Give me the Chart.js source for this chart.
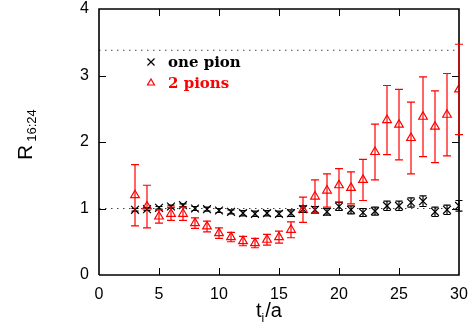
<!DOCTYPE html>
<html>
<head>
<meta charset="utf-8">
<script src="https://cdn.jsdelivr.net/npm/chart.js@4.4.1/dist/chart.umd.min.js"></script>
<style>
  html, body { margin: 0; padding: 0; background: #fff; }
  #wrap { width: 475px; height: 335px; }
</style>
</head>
<body>
<div id="wrap"><canvas id="ratio"></canvas></div>
<script>
// time slices t_i/a
const tSlices = [3, 4, 5, 6, 7, 8, 9, 10, 11, 12, 13, 14, 15, 16, 17, 18, 19, 20, 21, 22, 23, 24, 25, 26, 27, 28, 29, 30];

const onePion = [0.98, 0.99, 1.01, 1.03, 1.05, 1.00, 0.99, 0.97, 0.95, 0.93, 0.92, 0.93, 0.92, 0.93,
                 0.99, 0.98, 0.95, 1.03, 0.98, 0.94, 0.96, 1.04, 1.04, 1.09, 1.11, 0.95, 0.98, 1.04];
const onePionErr = [0.02, 0.02, 0.02, 0.02, 0.02, 0.03, 0.03, 0.03, 0.03, 0.04, 0.04, 0.04, 0.04, 0.05,
                    0.05, 0.05, 0.05, 0.06, 0.06, 0.06, 0.06, 0.07, 0.07, 0.07, 0.08, 0.07, 0.07, 0.08];

const twoPions = [1.20, 1.03, 0.88, 0.92, 0.92, 0.78, 0.73, 0.63, 0.57, 0.51, 0.48, 0.53, 0.57, 0.68,
                  0.98, 1.18, 1.27, 1.35, 1.31, 1.43, 1.85, 2.33, 2.26, 2.06, 2.38, 2.23, 2.41, 2.79];
const twoPionsErr = [0.46, 0.32, 0.10, 0.10, 0.10, 0.08, 0.08, 0.08, 0.07, 0.07, 0.07, 0.08, 0.09, 0.12,
                     0.19, 0.25, 0.25, 0.25, 0.24, 0.31, 0.42, 0.52, 0.53, 0.54, 0.60, 0.54, 0.62, 0.68];

// dotted reference levels
const refLevels = [1, 3.38];
const refRange = [0, 30];

const xTicks = [0, 5, 10, 15, 20, 25, 30];
const yTicks = [0, 1, 2, 3, 4];

const toPoints = (vals, errs) => vals.map((v, i) => ({ x: tSlices[i], y: v, e: errs[i] }));

// error bars with caps
const errorBars = {
    id: 'errorBars',
    afterDatasetsDraw(chart) {
        const ctx = chart.ctx;
        const sx = chart.scales.x, sy = chart.scales.y;
        chart.data.datasets.forEach(ds => {
            if (!ds.errCap) return;
            ctx.save();
            ctx.setLineDash([]);
            ctx.strokeStyle = ds.borderColor;
            ctx.lineWidth = 1.2;
            ds.data.forEach(p => {
                const px = sx.getPixelForValue(p.x);
                const top = sy.getPixelForValue(p.y + p.e);
                const bot = sy.getPixelForValue(p.y - p.e);
                ctx.beginPath();
                ctx.moveTo(px, top); ctx.lineTo(px, bot);
                ctx.moveTo(px - ds.errCap, top); ctx.lineTo(px + ds.errCap, top);
                ctx.moveTo(px - ds.errCap, bot); ctx.lineTo(px + ds.errCap, bot);
                ctx.stroke();
            });
            ctx.restore();
        });
    }
};

// inward ticks, tick labels, titles, legend
const decor = {
    id: 'decor',
    afterDraw(chart) {
        const ctx = chart.ctx;
        const sx = chart.scales.x, sy = chart.scales.y;
        const L = Math.round(sx.getPixelForValue(xTicks[0]));
        const R = Math.round(sx.getPixelForValue(xTicks[xTicks.length - 1]));
        const B = Math.round(sy.getPixelForValue(yTicks[0]));
        const T = Math.round(sy.getPixelForValue(yTicks[yTicks.length - 1]));
        ctx.save();
        ctx.setLineDash([]);
        ctx.strokeStyle = '#000';
        ctx.lineWidth = 1;
        ctx.beginPath();
        xTicks.slice(1, -1).forEach(t => {
            const px = Math.round(sx.getPixelForValue(t)) + 0.5;
            ctx.moveTo(px, B); ctx.lineTo(px, B - 7);
            ctx.moveTo(px, T); ctx.lineTo(px, T + 7);
        });
        yTicks.slice(1, -1).forEach(t => {
            const py = Math.round(sy.getPixelForValue(t)) + 0.5;
            ctx.moveTo(L, py); ctx.lineTo(L + 7, py);
            ctx.moveTo(R, py); ctx.lineTo(R - 7, py);
        });
        ctx.stroke();

        // tick labels
        ctx.fillStyle = '#000';
        ctx.font = '16px "Liberation Sans"';
        ctx.textAlign = 'center';
        ctx.textBaseline = 'alphabetic';
        xTicks.forEach(t => ctx.fillText(String(t), sx.getPixelForValue(t), B + 24));
        ctx.textAlign = 'right';
        ctx.textBaseline = 'middle';
        yTicks.forEach(t => ctx.fillText(String(t), L - 10, sy.getPixelForValue(t)));

        // x title: t_i/a
        ctx.textAlign = 'left';
        ctx.textBaseline = 'alphabetic';
        ctx.font = '20px "Liberation Sans"';
        let cx = 256, by = 317;
        ctx.fillText('t', cx, by);
        cx += ctx.measureText('t').width;
        ctx.font = '12px "Liberation Sans"';
        ctx.fillText('i', cx, by + 5);
        cx += ctx.measureText('i').width + 1;
        ctx.font = '20px "Liberation Sans"';
        ctx.fillText('/a', cx, by);

        // y title: R_16:24
        ctx.save();
        ctx.translate(32, 160);
        ctx.rotate(-Math.PI / 2);
        ctx.font = '21px "Liberation Sans"';
        ctx.fillText('R', 0, 0);
        const rw = ctx.measureText('R').width;
        ctx.font = '13px "Liberation Sans"';
        ctx.fillText('16:24', rw + 3, 4);
        ctx.restore();

        // legend
        ctx.font = 'bold 15px "DejaVu Serif"';
        ctx.fillStyle = '#000';
        ctx.fillText('one pion', 168, 67);
        ctx.fillStyle = '#ff0000';
        ctx.fillText('2 pions', 168, 88);
        ctx.strokeStyle = '#000';
        ctx.lineWidth = 1.2;
        Chart.helpers.drawPoint(ctx, { pointStyle: 'crossRot', radius: 5, borderWidth: 1.2 }, 151, 62);
        ctx.strokeStyle = '#ff0000';
        ctx.fillStyle = 'rgba(0,0,0,0)';
        Chart.helpers.drawPoint(ctx, { pointStyle: 'triangle', radius: 4, borderWidth: 1.2 }, 151, 83);
        ctx.restore();
    }
};

document.addEventListener('DOMContentLoaded', () => {
    const canvas = document.getElementById('ratio');
    const refSets = refLevels.map(lv => ({
        type: 'line',
        data: refRange.map(xv => ({ x: xv, y: lv })),
        borderColor: '#444',
        borderWidth: 1.2,
        borderDash: [1.5, 4.5],
        pointRadius: 0,
        fill: false,
        order: 3
    }));

    // plot frame as a closed line through the axis limits
    const xMin = xTicks[0], xMax = xTicks[xTicks.length - 1];
    const yMin = yTicks[0], yMax = yTicks[yTicks.length - 1];
    const frameSet = {
        type: 'line',
        data: [
            { x: xMin, y: yMin }, { x: xMax, y: yMin }, { x: xMax, y: yMax },
            { x: xMin, y: yMax }, { x: xMin, y: yMin }
        ],
        borderColor: '#000',
        borderWidth: 1.6,
        pointRadius: 0,
        fill: false,
        tension: 0,
        clip: false,
        order: 0
    };

    new Chart(canvas, {
        type: 'scatter',
        data: {
            datasets: [
                ...refSets,
                {
                    label: 'one pion',
                    data: toPoints(onePion, onePionErr),
                    pointStyle: 'crossRot',
                    pointRadius: 5.5,
                    borderColor: '#000',
                    backgroundColor: '#000',
                    pointBorderWidth: 1.2,
                    errCap: 3.5,
                    order: 2
                },
                {
                    label: '2 pions',
                    data: toPoints(twoPions, twoPionsErr),
                    pointStyle: 'triangle',
                    pointRadius: 5,
                    borderColor: '#ff0000',
                    backgroundColor: 'rgba(0,0,0,0)',
                    pointBorderWidth: 1.2,
                    errCap: 4,
                    order: 1
                },
                frameSet
            ]
        },
        options: {
            responsive: true,
            maintainAspectRatio: false,
            animation: false,
            layout: { padding: { top: 9, right: 16, left: 0, bottom: 0 } },
            plugins: { legend: { display: false }, tooltip: { enabled: false } },
            scales: {
                x: {
                    type: 'linear', min: 0, max: 30,
                    afterFit: s => { s.height = 60; },
                    grid: { display: false, drawTicks: false },
                    border: { display: false },
                    ticks: { display: false }
                },
                y: {
                    type: 'linear', min: 0, max: 4,
                    afterFit: s => { s.width = 99; },
                    grid: { display: false, drawTicks: false },
                    border: { display: false },
                    ticks: { display: false }
                }
            }
        },
        plugins: [errorBars, decor]
    });
});
</script>
</body>
</html>
